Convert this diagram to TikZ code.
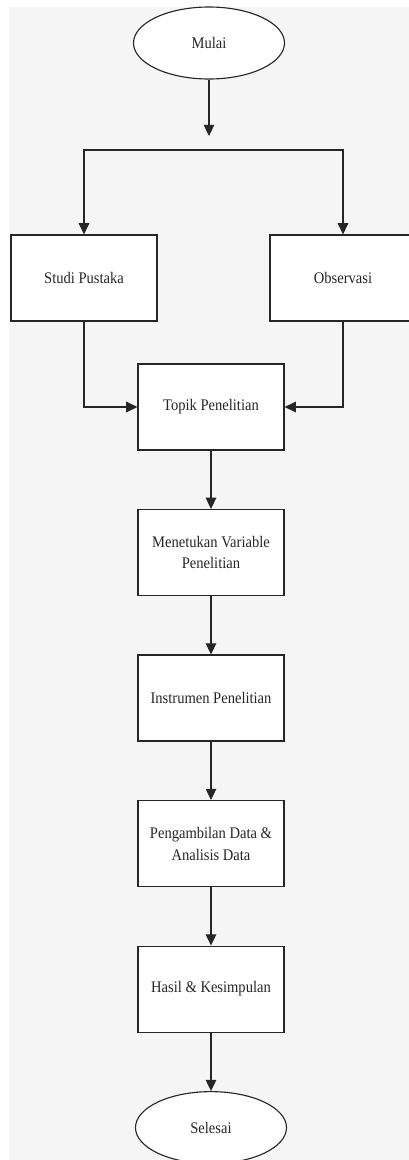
\documentclass[tikz,border=0pt]{standalone}
\usepackage{fontspec}
\setmainfont{Liberation Serif}[FakeStretch=0.9]
\usepackage{tikz}
\usetikzlibrary{positioning,shapes.geometric,arrows.meta}

\begin{document}
\begin{tikzpicture}[
			procnode/.style={rectangle, draw=black!85, fill=white, line width=0.8pt, minimum width=3.65cm, minimum height=2.15cm, align=center, font=\fontsize{11.5}{15.5}\selectfont, text=black!85},
			termnode/.style={ellipse, draw=black!85, fill=white, line width=0.8pt, minimum width=3.775cm, minimum height=1.8cm, font=\fontsize{11.5}{15.5}\selectfont, text=black!85},
			flow/.style={draw=black!85, line width=0.8pt, -{Triangle[length=8pt,width=7.5pt]}},
			node distance=1.46cm,
			]
			%Background
			\useasboundingbox (0,0) rectangle (10.225,-29);
			\fill[black!4] (0.225,-0.175) rectangle (10.225,-29);

			%Nodes
			\node[termnode] (mulai)     at (5.225,-1.075) {Mulai};
			\node[procnode] (studi)     at (2.1,-6.95)    {Studi Pustaka};
			\node[procnode] (observasi) at (8.575,-6.95)  {Observasi};
			\node[procnode] (topik)     at (5.275,-10.175) {Topik Penelitian};
			\node[procnode] (variabel)  [below=of topik]     {Menetukan Variable\\Penelitian};
			\node[procnode] (instrumen) [below=of variabel]  {Instrumen Penelitian};
			\node[procnode] (data)      [below=of instrumen] {Pengambilan Data \&\\Analisis Data};
			\node[procnode] (hasil)     [below=of data]      {Hasil \& Kesimpulan};
			\node[termnode] (selesai)   [below=of hasil]     {Selesai};

			\coordinate (tip)  at (5.225,-3.4);
			\coordinate (fork) at (5.225,-3.75);

			%Arrows
			\draw[flow] (mulai) -- (tip);
			\draw[flow] (fork) -| (studi);
			\draw[flow] (fork) -| (observasi);
			\draw[flow] (studi) |- (topik);
			\draw[flow] (observasi) |- (topik);
			\draw[flow] (topik) -- (variabel);
			\draw[flow] (variabel) -- (instrumen);
			\draw[flow] (instrumen) -- (data);
			\draw[flow] (data) -- (hasil);
			\draw[flow] (hasil) -- (selesai);
		\end{tikzpicture}
\end{document}
